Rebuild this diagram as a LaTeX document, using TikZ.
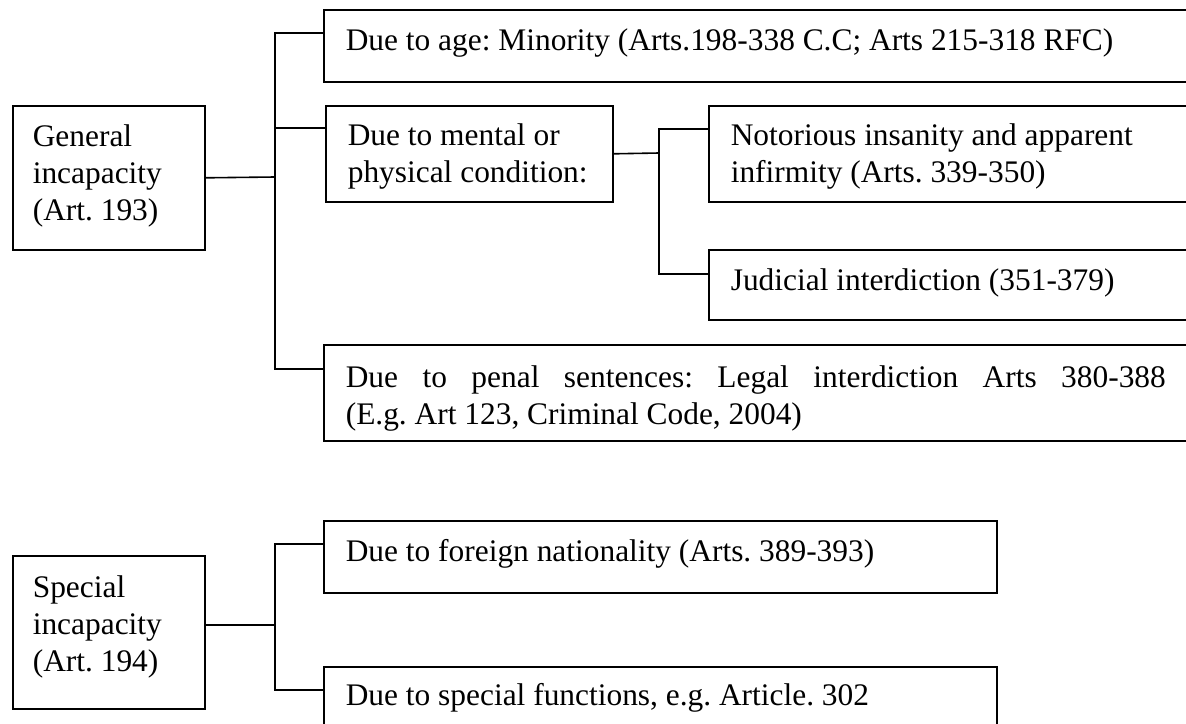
\documentclass[tikz,border=0pt]{standalone}
\usepackage{fontspec}
\setmainfont{Liberation Serif}
\frenchspacing

\begin{document}
\begin{tikzpicture}[
    x=1pt, y=-1pt,
    font=\fontsize{31.4pt}{37pt}\selectfont,
    box/.style={draw=black, line width=1.6pt, rectangle, anchor=north west,
        inner xsep=22pt, inner ysep=0pt, align=flush left, text height=41pt},
    link/.style={line width=1.6pt, -}
]
    \clip (0,0) rectangle (1186,723);
    \node[box, inner xsep=20pt, text width=152pt, text depth=103pt] (gen) at (12,105) {General\\incapacity\\(Art. 193)};
    \node[box, text width=825pt, text depth=31pt] (age) at (323,9) {Due to age: Minority (Arts.198-338 C.C; Arts 215-318 RFC)};
    \node[box, text width=243pt, text height=40pt, text depth=56pt] (mental) at (325,105) {Due to mental or\\physical condition:};
    \node[box, text width=440pt, text height=40pt, text depth=56pt] (notor) at (708,105) {Notorious insanity and apparent\\infirmity (Arts. 339-350)};
    \node[box, text width=440pt, text depth=29pt] (judic) at (708,249) {Judicial interdiction (351-379)};
    \node[box, text width=825pt, text height=43pt, text depth=53pt] (penal) at (323,344) {\makebox[820pt][s]{\spaceskip=0pt Due to penal sentences: Legal interdiction Arts 380-388}\\(E.g. Art 123, Criminal Code, 2004)};
    \node[box, inner xsep=20pt, text width=152pt, text height=42pt, text depth=111pt] (spec) at (12,555) {Special\\incapacity\\(Art. 194)};
    \node[box, text width=629pt, text depth=31pt] (foreign) at (323,520) {Due to foreign nationality (Arts. 389-393)};
    \node[box, text width=629pt, text height=39pt, text depth=41pt] (funct) at (323,666) {Due to special functions, e.g. Article. 302};
    \coordinate (j1) at (275,177);
    \coordinate (j2) at (275,625);
    \coordinate (j3) at (659,153);
    \draw[link] (gen.east) -- (j1);
    \draw[link] ([yshift=-24pt]age.north west) -| (j1) |- ([yshift=-25pt]penal.north west);
    \draw[link] ([yshift=-23pt]mental.north west) -- ([yshift=-23pt]mental.north west -| j1);
    \draw[link] (mental.east) -- (j3);
    \draw[link] ([yshift=-24pt]notor.north west) -| (j3) |- ([yshift=-25pt]judic.north west);
    \draw[link] (spec.east |- j2) -- (j2);
    \draw[link] ([yshift=-24pt]foreign.north west) -| (j2) |- ([yshift=-24pt]funct.north west);
\end{tikzpicture}
\end{document}
